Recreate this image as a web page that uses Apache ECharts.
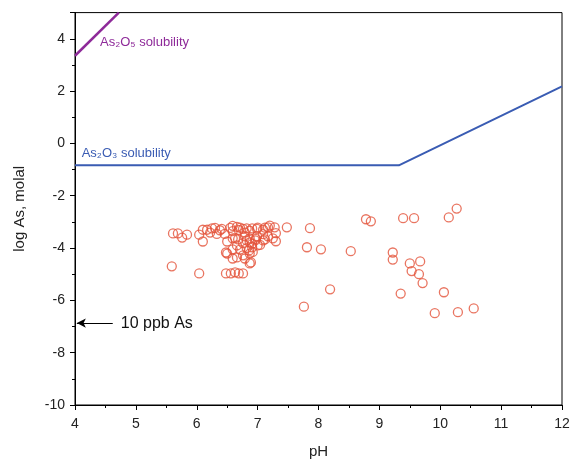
<!DOCTYPE html>
<html><head><meta charset="utf-8">
<script src="https://cdn.jsdelivr.net/npm/echarts@6/dist/echarts.min.js"></script>
<style>html,body{margin:0;padding:0;background:#fff}#c{width:574px;height:465px}</style>
</head><body><div id="c"></div>
<script>
// Sample data: pH and log As (molal)
const samplePH = [5.61,5.69,5.76,5.84,6.04,6.10,6.10,6.17,6.22,6.30,6.33,6.41,6.46,6.50,6.48,6.55,6.59,6.63,6.66,6.68,6.66,6.59,6.59,6.66,6.69,6.76,6.82,6.79,6.86,6.87,6.91,6.92,6.89,6.79,6.99,6.97,7.04,7.09,7.12,7.17,7.28,7.30,7.30,7.48,7.86,7.81,8.04,8.53,8.78,8.86,9.39,9.57,10.14,10.27,9.22,9.22,9.50,9.67,9.53,9.65,9.71,8.19,7.76,9.35,9.91,10.06,10.29,10.55,5.59,6.04,6.48,6.56,6.63,6.69,6.76,6.71,6.82,6.91,7.00,7.12,7.20,6.59,6.79,6.87,6.99,7.09,7.17,7.25,6.76,6.87,6.96,7.09,6.71,6.82,6.91,7.00,6.76,6.87,6.87,6.59,6.25,6.38,6.50];
const sampleLogAs = [-3.44,-3.44,-3.60,-3.49,-3.49,-3.30,-3.75,-3.30,-3.41,-3.23,-3.46,-3.27,-3.46,-3.75,-4.17,-3.23,-3.35,-3.62,-3.19,-3.67,-3.90,-4.05,-4.40,-4.36,-3.31,-3.27,-3.71,-3.41,-4.09,-3.34,-3.84,-4.15,-4.55,-4.40,-3.27,-3.65,-3.88,-3.30,-3.67,-3.21,-3.21,-3.43,-3.74,-3.21,-3.24,-3.97,-4.05,-4.12,-2.90,-2.98,-2.86,-2.86,-2.83,-2.49,-4.17,-4.44,-4.59,-4.51,-4.88,-5.00,-5.34,-5.58,-6.24,-5.74,-6.49,-5.69,-6.45,-6.31,-4.70,-4.97,-4.97,-4.97,-4.93,-4.97,-4.97,-3.22,-3.25,-3.25,-3.22,-3.22,-3.14,-3.63,-3.55,-3.63,-3.55,-3.47,-3.55,-3.63,-3.81,-3.78,-3.71,-3.71,-4.06,-4.00,-3.97,-3.90,-4.28,-4.21,-4.59,-3.15,-3.25,-3.32,-4.21];
// Solubility lines
const as2o5PH = [4.0, 4.72];
const as2o5Log = [3.35, 5.0];
const as2o3PH = [4.0, 9.32, 12.0];
const as2o3Log = [-0.84, -0.84, 2.18];
// 10 ppb As guideline
const ppbLevel = -6.87;
const xTicks = [4,5,6,7,8,9,10,11,12];
const yTicks = [-10,-8,-6,-4,-2,0,2,4];

const chart = echarts.init(document.getElementById('c'));
const font = 'Liberation Sans, Arial, sans-serif';
const zip = (a,b)=>a.map((v,i)=>[v,b[i]]);
chart.setOption({
  animation:false,
  grid:{left:75,right:12,top:12.6,bottom:60,show:true,borderColor:'#000',borderWidth:1},
  xAxis:{type:'value',min:4,max:12,interval:1,
    name:'pH',nameLocation:'middle',nameGap:39,
    nameTextStyle:{fontFamily:font,fontSize:15,color:'#222'},
    axisLine:{onZero:false,lineStyle:{color:'#000',width:1}},
    axisTick:{length:5,lineStyle:{color:'#000'}},
    minorTick:{show:true,splitNumber:2,length:3,lineStyle:{color:'#000'}},
    splitLine:{show:false},
    axisLabel:{fontFamily:font,fontSize:14,color:'#222',margin:12,
      formatter:v=>xTicks.includes(v)?String(v):''}},
  yAxis:{type:'value',min:-10,max:5,interval:2,
    name:'log As, molal',nameLocation:'middle',nameGap:48,
    nameTextStyle:{fontFamily:font,fontSize:15,color:'#222'},
    axisLine:{onZero:false,lineStyle:{color:'#000',width:1}},
    axisTick:{length:5,lineStyle:{color:'#000'}},
    minorTick:{show:true,splitNumber:2,length:3,lineStyle:{color:'#000'}},
    splitLine:{show:false},
    axisLabel:{fontFamily:font,fontSize:14,color:'#222',margin:10,showMaxLabel:false,
      formatter:v=>yTicks.includes(v)?String(v):''}},
  series:[
    {type:'line',data:zip(as2o5PH,as2o5Log),symbol:'none',lineStyle:{color:'#8e2a99',width:2.5}},
    {type:'line',data:zip(as2o3PH,as2o3Log),symbol:'none',lineStyle:{color:'#3a5cb3',width:2}},
    {type:'scatter',data:zip(samplePH,sampleLogAs),symbol:'circle',symbolSize:9,
      itemStyle:{color:'rgba(255,255,255,0)',borderColor:'#e4533a',borderWidth:1.3}},
    {type:'line',data:[],
      markLine:{silent:true,symbol:['none','arrow'],symbolSize:[7,9],
        lineStyle:{color:'#000',width:1,type:'solid'},
        label:{show:true,position:'start',formatter:'10 ppb As',fontFamily:font,fontSize:16,color:'#111',distance:8},
        data:[[{coord:[4.62,ppbLevel]},{coord:[4.03,ppbLevel]}]]}}
  ]
});
const p5 = chart.convertToPixel({gridIndex:0},[4.41,3.85]);
const p3 = chart.convertToPixel({gridIndex:0},[4.11,-0.39]);
chart.setOption({graphic:[
  {type:'text',x:p5[0],y:p5[1],style:{text:'As₂O₅ solubility',font:'13px '+font,fill:'#8e2a99',textVerticalAlign:'middle'}},
  {type:'text',x:p3[0],y:p3[1],style:{text:'As₂O₃ solubility',font:'13px '+font,fill:'#3a5cb3',textVerticalAlign:'middle'}}
]});
</script></body></html>
